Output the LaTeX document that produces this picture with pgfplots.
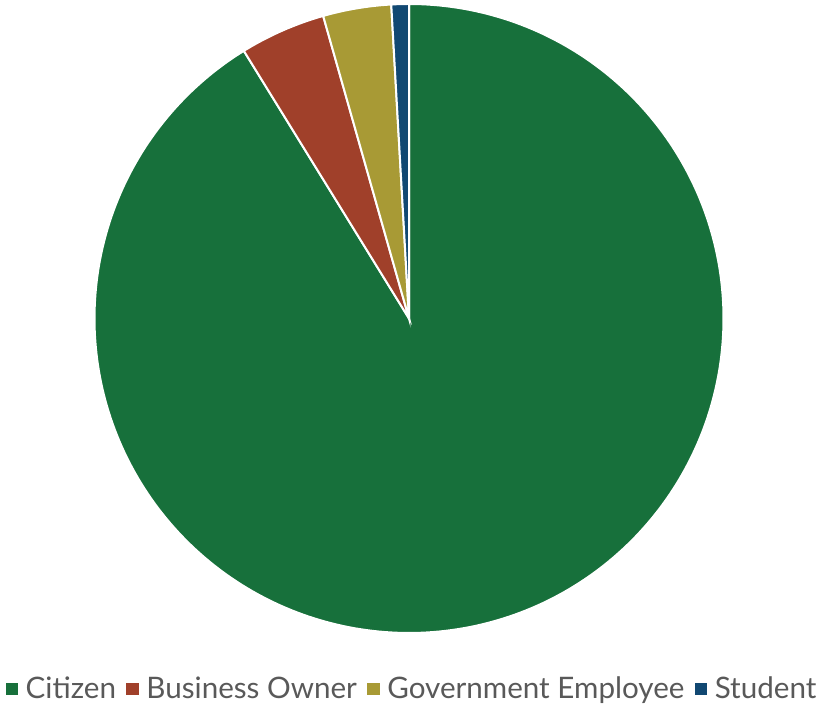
\documentclass[border=0pt]{standalone}
\usepackage{pgfplots}
\usepackage{pgfplotstable}
\pgfplotsset{compat=1.18}
\usepackage{fontspec}
\setmainfont{Lato}
\definecolor{cgreen}{HTML}{17703B}
\definecolor{cred}{HTML}{A0402A}
\definecolor{cgold}{HTML}{A89A35}
\definecolor{cblue}{HTML}{114872}
\definecolor{ctext}{HTML}{595959}
\pgfplotstableread{
name value
Citizen 91.2
Business 4.4
Government 3.5
Student 0.9
}\piedata
\begin{document}
\begin{tikzpicture}
\pgfplotstablegetelem{0}{value}\of\piedata \let\vA\pgfplotsretval
\pgfplotstablegetelem{1}{value}\of\piedata \let\vB\pgfplotsretval
\pgfplotstablegetelem{2}{value}\of\piedata \let\vC\pgfplotsretval
\pgfplotstablegetelem{3}{value}\of\piedata \let\vD\pgfplotsretval
\pgfmathsetmacro\tot{\vA+\vB+\vC+\vD}
\pgfmathsetmacro\aA{90-3.6*(\vA/\tot)*100}
\pgfmathsetmacro\aB{\aA-3.6*(\vB/\tot)*100}
\pgfmathsetmacro\aC{\aB-3.6*(\vC/\tot)*100}
\pgfmathsetmacro\aD{\aC-3.6*(\vD/\tot)*100}
\useasboundingbox (0,0) rectangle (412.5pt,352pt);
\begin{axis}[
  at={(204.5pt,192.75pt)}, anchor=center,
  scale only axis, width=314.5pt, height=314.5pt,
  xmin=-1, xmax=1, ymin=-1, ymax=1,
  hide axis, clip=false,
  legend columns=4,
  legend style={at={(0.5065,-0.089)}, anchor=center, draw=none, fill=none,
    font=\fontsize{14.8}{16}\selectfont, text=ctext,
    /tikz/every odd column/.append style={column sep=1.8pt},
    /tikz/every even column/.append style={column sep=3.2pt},
    inner sep=0pt},
  legend image code/.code={\fill[#1,draw=none] (0pt,-3.1pt) rectangle (6.2pt,3.1pt);},
]
\addplot[fill=cgreen, draw=white, line width=1pt, domain=\aA:90, samples=300, variable=\t]
  ({cos(\t)},{sin(\t)}) -- (axis cs:0,0) -- cycle;
\addlegendentry{Citizen}
\addplot[fill=cred, draw=white, line width=1pt, domain=\aB:\aA, samples=30, variable=\t]
  ({cos(\t)},{sin(\t)}) -- (axis cs:0,0) -- cycle;
\addlegendentry{Business Owner}
\addplot[fill=cgold, draw=white, line width=1pt, domain=\aC:\aB, samples=30, variable=\t]
  ({cos(\t)},{sin(\t)}) -- (axis cs:0,0) -- cycle;
\addlegendentry{Government Employee}
\addplot[fill=cblue, draw=white, line width=1pt, domain=\aD:\aC, samples=10, variable=\t]
  ({cos(\t)},{sin(\t)}) -- (axis cs:0,0) -- cycle;
\addlegendentry{Student}
\end{axis}
\end{tikzpicture}
\end{document}
